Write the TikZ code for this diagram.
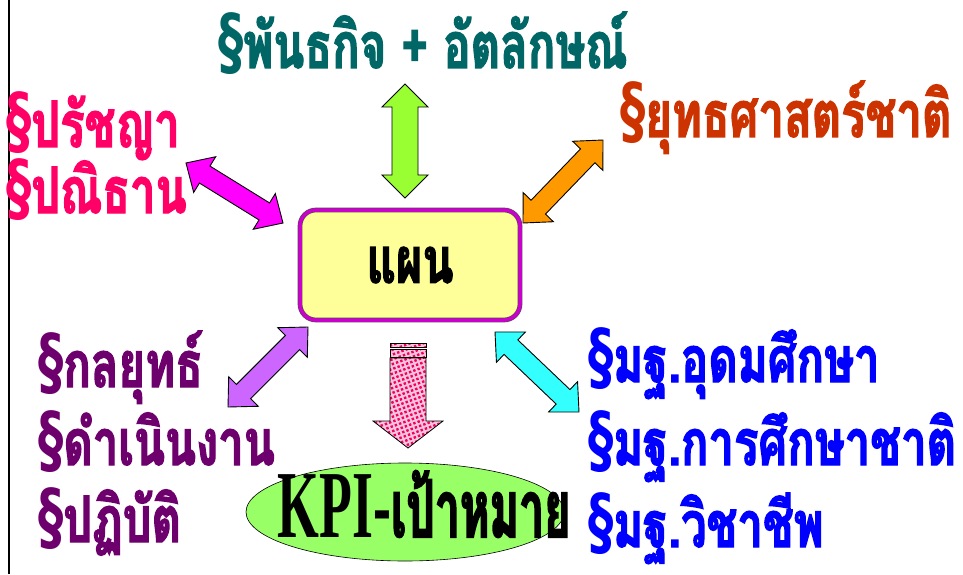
\documentclass[tikz,border=0pt]{standalone}
\usepackage{fontspec}
\usepackage{tikz}
\usetikzlibrary{positioning,calc,patterns.meta,shapes.geometric}
\newfontfamily\thaifont[Script=Thai,FakeStretch=0.71,BoldFeatures={FakeBold=2}]{Loma}
\newfontfamily\kpithai[Script=Thai,FakeStretch=0.56,BoldFeatures={FakeBold=2}]{Loma}
\newfontfamily\kpifont[FakeStretch=0.56]{Liberation Serif}
\newfontfamily\secfont[FakeStretch=0.68]{DejaVu Sans}
\newcommand{\sect}{{\secfont\bfseries\fontsize{74}{74}\selectfont §}}
\definecolor{missioncol}{RGB}{0,102,102}
\definecolor{philocol}{RGB}{255,0,102}
\definecolor{stratcol}{RGB}{204,51,0}
\definecolor{opcol}{RGB}{110,0,110}
\definecolor{stdcol}{RGB}{0,0,255}
\definecolor{planyellow}{RGB}{255,255,153}
\definecolor{planborder}{RGB}{204,0,204}
\definecolor{kpigreen}{RGB}{153,255,102}
\definecolor{dotpink}{RGB}{240,0,100}
\definecolor{arrmagenta}{RGB}{255,0,255}
\definecolor{arrorange}{RGB}{255,153,0}
\definecolor{arrviolet}{RGB}{204,102,255}
\definecolor{arrcyan}{RGB}{51,255,255}
\definecolor{arrgreen}{RGB}{153,255,51}
\tikzdeclarepattern{
  name=pinkdots, type=uncolored,
  bounding box={(-2.25pt,-2.25pt) and (2.25pt,2.25pt)},
  tile size={(4.5pt,4.5pt)},
  tile transformation={rotate=20},
  code={\pgfpathrectangle{\pgfpoint{-1.2pt}{-1.2pt}}{\pgfpoint{2.4pt}{2.4pt}}\pgfusepath{fill}}}
% block arrow between two named points
\newcommand{\headw}{21pt}
\newcommand{\shaftw}{10pt}
\newcommand{\headl}{22pt}
\newcommand{\blockarrow}[3]{%
  \draw[blockarrow, fill=#3] (#1)
    -- ($(#1)!\headl!(#2)!\headw!90:(#2)$) -- ($(#1)!\headl!(#2)!\shaftw!90:(#2)$)
    -- ($(#2)!\headl!(#1)!\shaftw!-90:(#1)$) -- ($(#2)!\headl!(#1)!\headw!-90:(#1)$)
    -- (#2)
    -- ($(#2)!\headl!(#1)!\headw!90:(#1)$) -- ($(#2)!\headl!(#1)!\shaftw!90:(#1)$)
    -- ($(#1)!\headl!(#2)!\shaftw!-90:(#2)$) -- ($(#1)!\headl!(#2)!\headw!-90:(#2)$)
    -- cycle;}

\begin{document}
\begin{tikzpicture}[x=1pt,y=1pt,
    item/.style={anchor=base west, inner sep=0pt,
      font=\thaifont\bfseries\fontsize{64}{68}\selectfont},
    blockarrow/.style={draw=black, line width=0.9pt, line join=miter},
    planbox/.style={rounded corners=16pt, minimum width=220, minimum height=110,
      fill=planyellow, draw=black!70, line width=0.6pt, double=planborder,
      double distance=3.5pt, font=\thaifont\bfseries\fontsize{64}{68}\selectfont},
    kpi/.style={ellipse, draw=black, line width=0.6pt, fill=kpigreen,
      minimum width=318, minimum height=98, inner sep=0pt},
    kpitext/.style={inner sep=0pt, font=\bfseries\fontsize{96}{100}\selectfont},
    dotarrow/.style={draw=black, line width=0.8pt,
      preaction={fill=dotpink!22}, pattern=pinkdots, pattern color=dotpink}]
  \useasboundingbox (0,0) rectangle (963,574);
  \draw[line width=2pt] (9,0) -- (9,574);

  \node[item, text=missioncol] (mission) at (218,506) {\sect พันธกิจ + อัตลักษณ์};
  \node[item, text=philocol] (philo) at (6,427) {\sect ปรัชญา};
  \node[item, text=philocol] (vow) at (6,361) {\sect ปณิธาน};
  \node[item, text=stratcol] (strat) at (620,437) {\sect ยุทธศาสตร์ชาติ};
  \node[item, text=opcol] (tactic) at (38,187) {\sect กลยุทธ์};
  \node[item, text=opcol] (oper) at (38,109) {\sect ดำเนินงาน};
  \node[item, text=opcol] (practice) at (38,32) {\sect ปฏิบัติ};
  \node[item, text=stdcol] (stdhigh) at (588,192) {\sect มฐ.อุดมศึกษา};
  \node[item, text=stdcol] (stdnat) at (588,109) {\sect มฐ.การศึกษาชาติ};
  \node[item, text=stdcol] (stdprof) at (588,27) {\sect มฐ.วิชาชีพ};

  \node[planbox] (plan) at (410,309) {แผน};
  \node[kpi, label={[kpitext, xshift=19pt, yshift=8pt]center:{\kpifont KPI-}{\kpithai\fontsize{80}{84}\selectfont เป้าหมาย}}] (kpi) at (405,62) {};

  % arrow ends
  \coordinate (gA) at (405,490);
  \coordinate (gB) at (405,376);
  \coordinate (mA) at (186,411);
  \coordinate (mB) at (283,351);
  \coordinate (oA) at (523,351);
  \coordinate (oB) at (603,434);
  \coordinate (pA) at (308,247);
  \coordinate (pB) at (228,167);
  \coordinate (cA) at (495,242);
  \coordinate (cB) at (579,162);
  \coordinate (dnA) at (408,216);
  \coordinate (dnB) at (408,126);

  \blockarrow{mA}{mB}{arrmagenta}
  \blockarrow{oA}{oB}{arrorange}
  \blockarrow{pA}{pB}{arrviolet}
  \blockarrow{cA}{cB}{arrcyan}
  \renewcommand{\headw}{23pt}
  \renewcommand{\shaftw}{13pt}
  \renewcommand{\headl}{23pt}
  \blockarrow{gA}{gB}{arrgreen}

  \draw[dotarrow] ($(dnA)+(-18,15)$) rectangle ($(dnA)+(18,11)$);
  \draw[dotarrow] ($(dnA)+(-18,9)$) rectangle ($(dnA)+(18,1)$);
  \draw[dotarrow] ($(dnA)+(-18,0)$) -- ($(dnA)+(18,0)$) -- ($(dnB)+(18,27)$)
    -- ($(dnB)+(35,27)$) -- (dnB) -- ($(dnB)+(-35,27)$) -- ($(dnB)+(-18,27)$) -- cycle;
\end{tikzpicture}
\end{document}
